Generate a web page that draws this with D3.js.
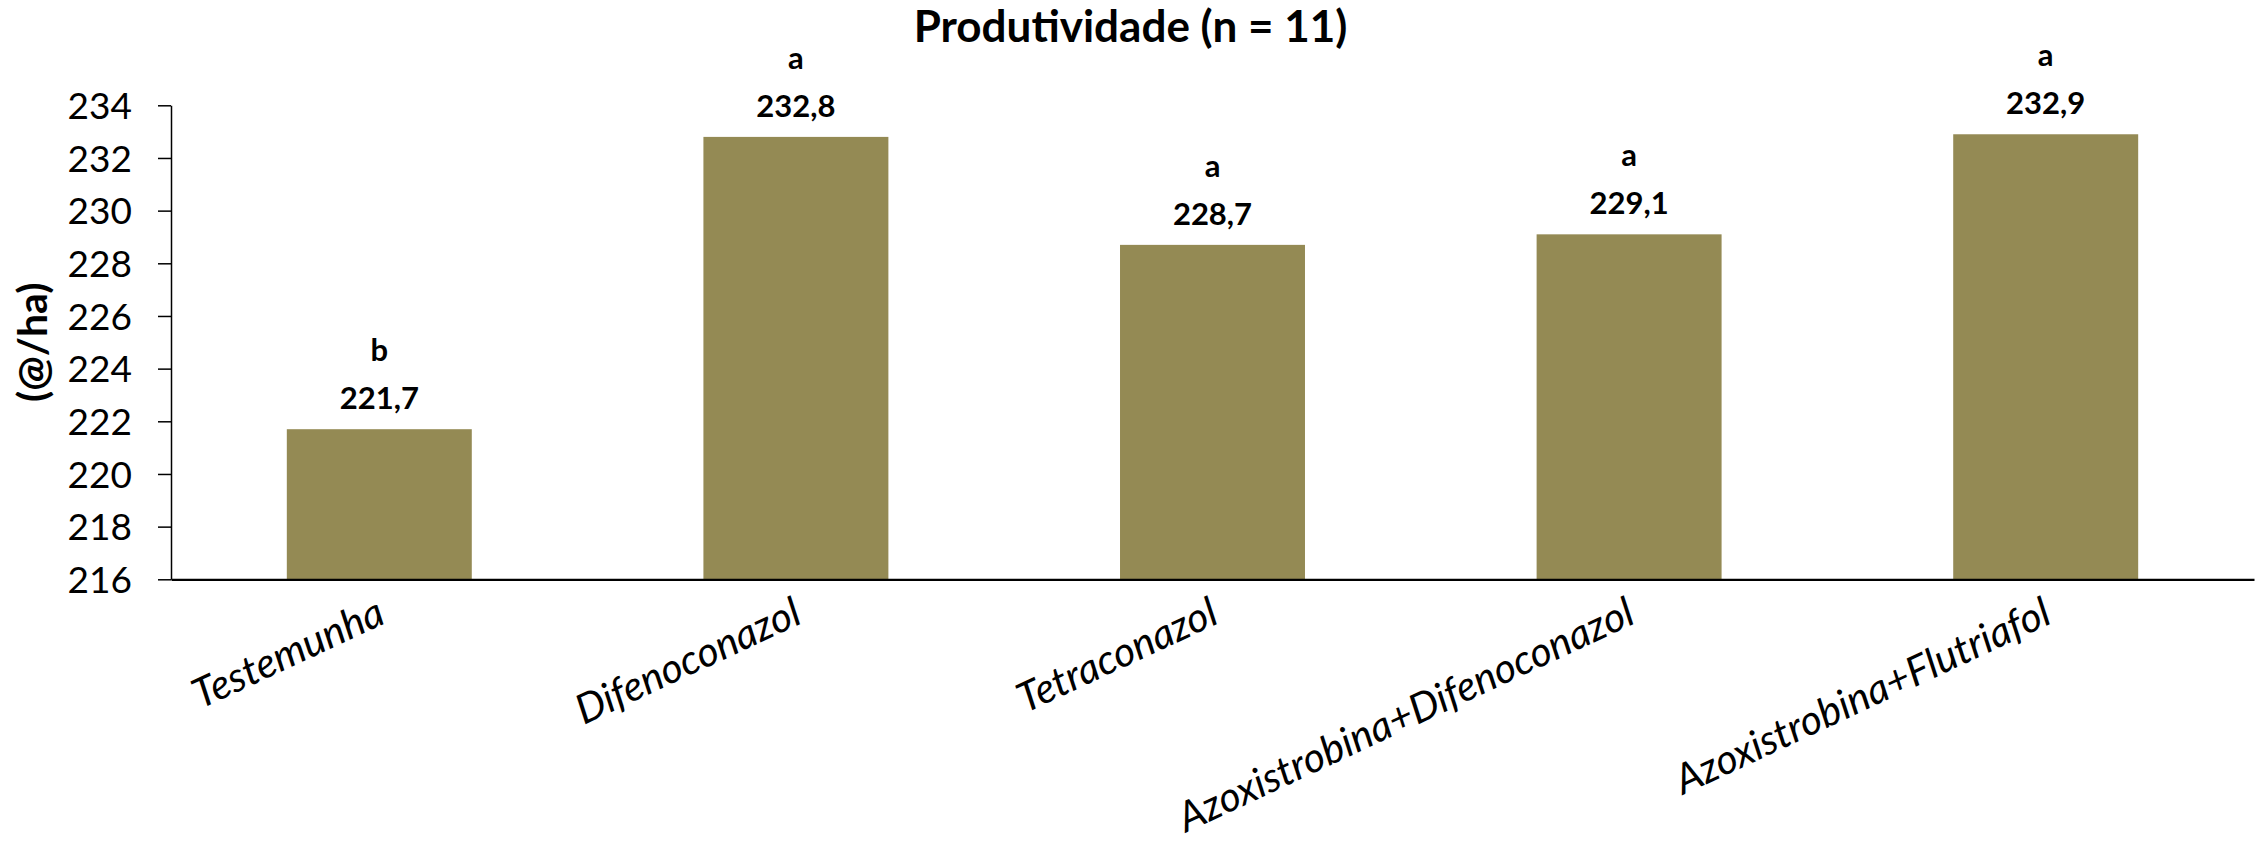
<!DOCTYPE html>
<html>
<head>
<meta charset="utf-8">
<script src="https://cdn.jsdelivr.net/npm/d3@7"></script>
<style>
    body { margin: 0; background: #fff; }
    svg { display: block; font-family: Lato, "Open Sans", sans-serif; }
</style>
</head>
<body>
<div id="chart"></div>
<script>
// values
const categories = ["Testemunha", "Difenoconazol", "Tetraconazol",
                    "Azoxistrobina+Difenoconazol", "Azoxistrobina+Flutriafol"];
const values = [221.7, 232.8, 228.7, 229.1, 232.9];
const letters = ["b", "a", "a", "a", "a"];
const yTicks = [216, 218, 220, 222, 224, 226, 228, 230, 232, 234];
const title = "Produtividade (n = 11)";
const yTitle = "(@/ha)";

const W = 2261, H = 845;
const margin = {top: 105.3, right: 7, bottom: 265.7, left: 171};
const barColor = "#948A54";
const FONT = "Lato, 'Open Sans', sans-serif";

const ptBR = d3.formatLocale({decimal: ",", thousands: ".", grouping: [3], currency: ["R$", ""]});
const fmt = ptBR.format(".1f");

const svg = d3.select("#chart").append("svg")
    .attr("width", W)
    .attr("height", H);

const x = d3.scaleBand()
    .domain(categories)
    .range([margin.left, W - margin.right])
    .paddingInner(0.556)
    .paddingOuter(0.278);

const y = d3.scaleLinear()
    .domain([216, 234])
    .range([H - margin.bottom, margin.top]);

// bars
svg.append("g")
    .selectAll("rect")
    .data(values)
    .enter().append("rect")
    .attr("x", (d, i) => x(categories[i]))
    .attr("y", d => y(d))
    .attr("width", x.bandwidth())
    .attr("height", d => y(216) - y(d))
    .attr("fill", barColor);

// y axis
const yAxis = svg.append("g")
    .attr("transform", `translate(${margin.left},0)`)
    .call(d3.axisLeft(y).tickValues(yTicks).tickSize(13).tickSizeOuter(0).tickPadding(26)
        .tickFormat(d3.format("d")))
    .attr("font-family", FONT)
    .attr("font-size", 37);
yAxis.select(".domain").attr("stroke", "#000").attr("stroke-width", 1.5);
yAxis.selectAll(".tick line").attr("stroke", "#000").attr("stroke-width", 1.5);
yAxis.selectAll("text")
    .attr("fill", "#000")
    .attr("dy", "0.36em");

// x axis
const xAxis = svg.append("g")
    .attr("transform", `translate(0,${y(216)})`)
    .call(d3.axisBottom(x).tickSize(0).tickSizeOuter(0).tickPadding(0))
    .attr("font-family", FONT)
    .attr("font-size", 41);
xAxis.select(".domain").attr("stroke", "#000").attr("stroke-width", 2.2);
xAxis.selectAll("text")
    .attr("fill", "#000")
    .style("font-style", "italic")
    .attr("text-anchor", "end")
    .attr("y", 0)
    .attr("dy", 0)
    .attr("transform", "translate(8,43) rotate(-25)");

// value labels + letters
const labels = svg.append("g")
    .attr("text-anchor", "middle")
    .style("font-weight", "bold")
    .style("font-size", "31px");

labels.selectAll(".val")
    .data(values)
    .enter().append("text")
    .attr("class", "val")
    .attr("x", (d, i) => x(categories[i]) + x.bandwidth() / 2)
    .attr("y", d => y(d) - 20)
    .text(d => fmt(d));

labels.selectAll(".letter")
    .data(values)
    .enter().append("text")
    .attr("class", "letter")
    .attr("x", (d, i) => x(categories[i]) + x.bandwidth() / 2)
    .attr("y", d => y(d) - 68)
    .text((d, i) => letters[i]);

// title
svg.append("text")
    .attr("x", W / 2)
    .attr("y", 42)
    .attr("text-anchor", "middle")
    .style("font-weight", "bold")
    .style("font-size", "44px")
    .text(title);

// y axis title
svg.append("text")
    .attr("transform", `translate(47,${(y(216) + y(234)) / 2}) rotate(-90)`)
    .attr("text-anchor", "middle")
    .style("font-weight", "bold")
    .style("font-size", "41px")
    .text(yTitle);
</script>
</body>
</html>
